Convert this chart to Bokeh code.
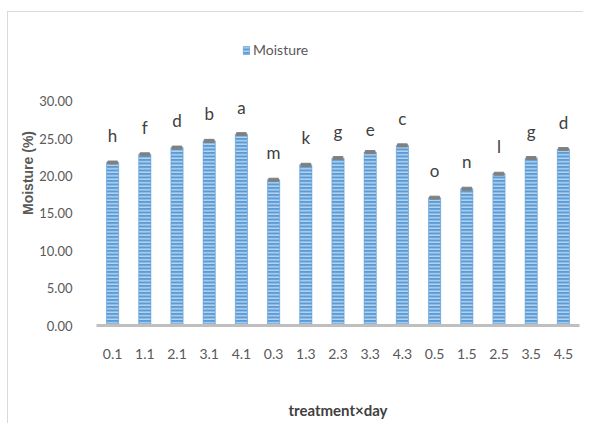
from bokeh.plotting import figure
from bokeh.models import ColumnDataSource, FixedTicker, Legend, LegendItem, CustomJSTickFormatter
from bokeh.core.properties import value
from bokeh.embed import file_html
from bokeh.resources import INLINE

categories = ["0.1", "1.1", "2.1", "3.1", "4.1", "0.3", "1.3", "2.3", "3.3", "4.3",
              "0.5", "1.5", "2.5", "3.5", "4.5"]
moisture = [21.8, 22.9, 23.8, 24.7, 25.6, 19.5, 21.5, 22.4, 23.2, 24.1,
            17.1, 18.3, 20.3, 22.4, 23.6]
errors = [0.2, 0.2, 0.2, 0.2, 0.2, 0.2, 0.2, 0.2, 0.2, 0.2,
          0.2, 0.2, 0.2, 0.2, 0.2]
letters = ["h", "f", "d", "b", "a", "m", "k", "g", "e", "c",
           "o", "n", "l", "g", "d"]
y_ticks = [0, 5, 10, 15, 20, 25, 30]

FONT = "Lato"
GRAY = "#595959"

src = ColumnDataSource(dict(
    x=categories, top=moisture,
    lo=[m - e for m, e in zip(moisture, errors)],
    hi=[m + e for m, e in zip(moisture, errors)],
    lab=letters,
))

p = figure(x_range=categories, y_range=(0, 40.8), width=576, height=412,
           output_backend="svg", toolbar_location=None,
           min_border_left=88, min_border_right=5, min_border_top=8, min_border_bottom=99)
p.outline_line_color = None
p.xgrid.grid_line_color = None
p.ygrid.grid_line_color = None
p.styles = {"margin-left": "7px", "margin-top": "11px",
            "border-left": "1px solid #d9d9d9", "border-top": "1px solid #d9d9d9"}

bars = p.vbar(x="x", top="top", width=0.38, source=src,
              fill_color="#5b9bd5", line_color="#5b9bd5", line_width=0.5,
              hatch_pattern="horizontal_line", hatch_color="#b4d3f0",
              hatch_scale=3.5, hatch_weight=1.5)
p.vbar(x="x", top="hi", bottom="lo", width=0.3, source=src,
       fill_color="#808080", line_color="#808080")
p.text(x="x", y="hi", text="lab", source=src, text_align="center",
       text_baseline="bottom", y_offset=-15, text_font=value(FONT),
       text_font_size="17px", text_color="#404040")

# axes
p.yaxis.ticker = FixedTicker(ticks=y_ticks)
p.yaxis.formatter = CustomJSTickFormatter(code="return tick.toFixed(2);")
p.yaxis.axis_line_color = None
p.yaxis.major_tick_line_color = None
p.yaxis.minor_tick_line_color = None
p.yaxis.major_label_text_font = FONT
p.yaxis.major_label_text_font_size = "13px"
p.yaxis.major_label_text_color = GRAY
p.yaxis.major_label_standoff = 18
p.yaxis.axis_label = "Moisture (%)"
p.yaxis.axis_label_text_font = "Liberation Sans"
p.yaxis.axis_label_text_font_style = "bold"
p.yaxis.axis_label_text_font_size = "14px"
p.yaxis.axis_label_text_color = GRAY
p.yaxis.axis_label_standoff = 0

p.xaxis.axis_line_color = "#bfbfbf"
p.xaxis.axis_line_width = 3
p.xaxis.major_tick_line_color = None
p.xaxis.minor_tick_line_color = None
p.xaxis.major_label_text_font = FONT
p.xaxis.major_label_text_font_size = "14px"
p.xaxis.major_label_text_color = GRAY
p.xaxis.major_label_standoff = 17
p.xaxis.axis_label = "treatment×day"
p.xaxis.axis_label_text_font = FONT
p.xaxis.axis_label_text_font_style = "bold"
p.xaxis.axis_label_text_font_size = "15px"
p.xaxis.axis_label_text_color = "#404040"
p.xaxis.axis_label_standoff = 39

legend = Legend(items=[LegendItem(label="Moisture", renderers=[bars])],
                location=(146, 267), orientation="horizontal",
                padding=0, margin=0, spacing=0,
                glyph_width=8, glyph_height=10, label_standoff=3,
                label_text_font=FONT, label_text_font_size="14px",
                label_text_color=GRAY, border_line_color=None,
                background_fill_alpha=0)
p.add_layout(legend)

open("out.html", "w").write(file_html(p, INLINE))
